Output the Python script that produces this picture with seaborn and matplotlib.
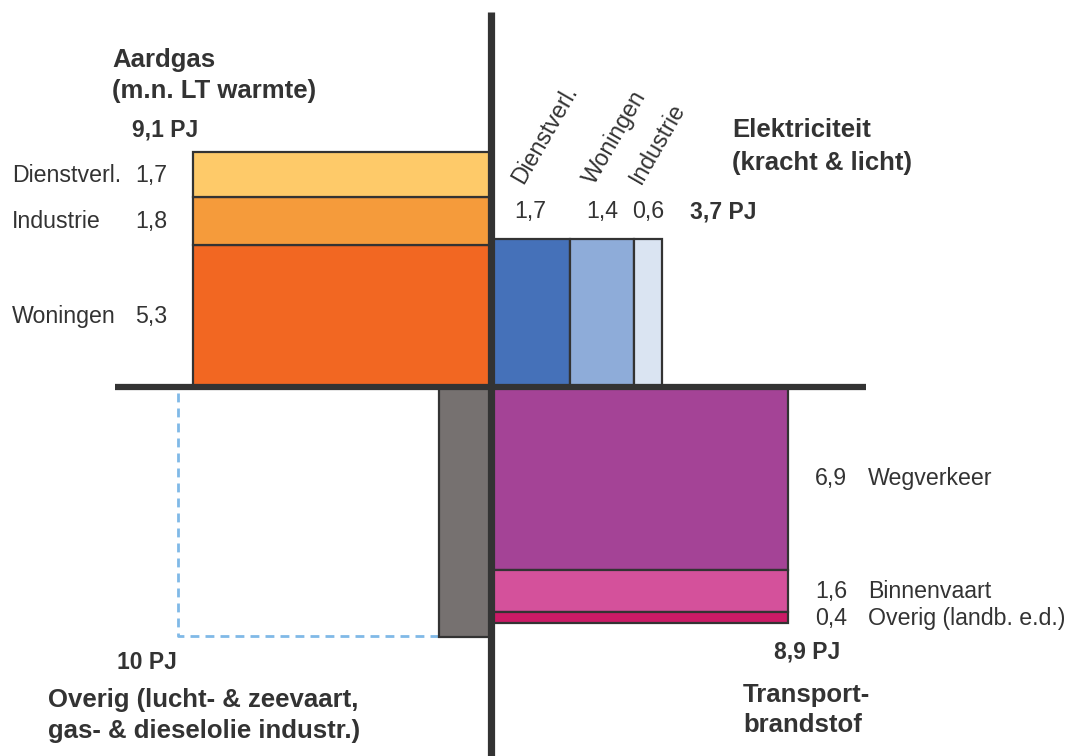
import numpy as np
import matplotlib
matplotlib.use("Agg")
import matplotlib.pyplot as plt
import seaborn as sns

# --- data (PJ) ---
gas_sectors = ["Woningen", "Industrie", "Dienstverl."]          # bottom -> top
gas_values = [5.3, 1.8, 1.7]
gas_total = 9.1

elec_sectors = ["Dienstverl.", "Woningen", "Industrie"]         # left -> right
elec_values = [1.7, 1.4, 0.6]
elec_total = 3.7

transport_sectors = ["Wegverkeer", "Binnenvaart", "Overig (landb. e.d.)"]  # top -> bottom
transport_values = [6.9, 1.6, 0.4]
transport_total = 8.9

other_total = 10.0

gas_title = ["Aardgas", "(m.n. LT warmte)"]
elec_title = ["Elektriciteit", "(kracht & licht)"]
transport_title = ["Transport-", "brandstof"]
other_title = ["Overig (lucht- & zeevaart,", "gas- & dieselolie industr.)"]

# --- style ---
gas_colors = ["#F26722", "#F59B3B", "#FECA69"]
elec_colors = ["#4571B9", "#8EACD9", "#DAE4F2"]
transport_colors = ["#A44396", "#D4519B", "#CB1A66"]
GRAY = "#767170"
DASH = "#80B9E7"
INK = "#333333"
EDGE_LW = 1.6
FS, FS_BOLD, FS_TOT = 16.7, 18.5, 16.5

# block geometry (screen px per PJ along the stacking direction)
GAS_W, GAS_SCALE = 298, 235 / gas_total
ELEC_H, ELEC_SCALE = 148, 171 / elec_total
TR_W, TR_SCALE = 297, 236 / transport_total
OV_W, OV_SCALE, OV_DASH_X = 52, 250 / other_total, -313


def pj(v):
    return f"{v:g}".replace(".", ",")


def shares(values, total):
    # segments split the block total in proportion to the sector values
    v = np.array(values, dtype=float)
    return v / v.sum() * total


sns.set_theme(style="white")
plt.rcParams["font.family"] = ["Liberation Sans", "DejaVu Sans"]
plt.rcParams["text.color"] = INK

fig = plt.figure(figsize=(10.75, 7.56), dpi=100)
ax = fig.add_axes([0, 0, 1, 1])
ax.set_xlim(-491, 584)
ax.set_ylim(-369, 387)
ax.axis("off")
bar_kw = dict(align="edge", edgecolor=INK, linewidth=EDGE_LW, zorder=2)

# Aardgas (top-left), stacked upward
h = shares(gas_values, gas_total) * GAS_SCALE
bottoms = np.concatenate([[0], np.cumsum(h)[:-1]])
ax.bar(-GAS_W, h, width=GAS_W, bottom=bottoms, color=gas_colors, **bar_kw)
for name, v, b, hh in zip(gas_sectors, gas_values, bottoms, h):
    yc = b + hh / 2 - 7
    ax.text(-479, yc, name, fontsize=FS, va="baseline")
    ax.text(-356, yc, pj(v), fontsize=FS, va="baseline")
gas_top = h.sum()
ax.text(-359, gas_top + 15, f"{pj(gas_total)} PJ", fontsize=FS_TOT, weight="bold", va="baseline")
ax.text(-379, 320, gas_title[0], fontsize=FS_BOLD, weight="bold", va="baseline")
ax.text(-379, 289, gas_title[1], fontsize=FS_BOLD, weight="bold", va="baseline")

# Elektriciteit (top-right), side by side
w = shares(elec_values, elec_total) * ELEC_SCALE
lefts = np.concatenate([[0], np.cumsum(w)[:-1]])
ax.bar(lefts, ELEC_H, width=w, color=elec_colors, **bar_kw)
for name, v, l, ww in zip(elec_sectors, elec_values, lefts, w):
    xc = l + ww / 2
    ax.text(xc, ELEC_H + 21, pj(v), fontsize=FS, ha="center", va="baseline")
    ax.text(xc - 7, ELEC_H + 54, name, fontsize=FS, rotation=60,
            rotation_mode="anchor", ha="left", va="baseline")
ax.text(w.sum() + 28, ELEC_H + 21, f"{pj(elec_total)} PJ", fontsize=FS_TOT,
        weight="bold", va="baseline")
ax.text(241, 250, elec_title[0], fontsize=FS_BOLD, weight="bold", va="baseline")
ax.text(241, 217, elec_title[1], fontsize=FS_BOLD, weight="bold", va="baseline")

# Transportbrandstof (bottom-right), stacked downward
h = shares(transport_values, transport_total) * TR_SCALE
tops = -np.concatenate([[0], np.cumsum(h)[:-1]])
ax.bar(0, -h, width=TR_W, bottom=tops, color=transport_colors, **bar_kw)
for name, v, t, hh in zip(transport_sectors, transport_values, tops, h):
    yc = t - hh / 2 - 7
    ax.text(324, yc, pj(v), fontsize=FS, va="baseline")
    ax.text(377, yc, name, fontsize=FS, va="baseline")
tr_bottom = -h.sum()
ax.text(283, tr_bottom - 35, f"{pj(transport_total)} PJ", fontsize=FS_TOT,
        weight="bold", va="baseline")
ax.text(252, -315, transport_title[0], fontsize=FS_BOLD, weight="bold", va="baseline")
ax.text(252, -345, transport_title[1], fontsize=FS_BOLD, weight="bold", va="baseline")

# Overig (bottom-left)
ov_h = other_total * OV_SCALE
ax.bar(-OV_W, -ov_h, width=OV_W, bottom=0, color=GRAY, **bar_kw)
ax.plot([OV_DASH_X, OV_DASH_X, -OV_W], [-6, -ov_h + 1, -ov_h + 1], color=DASH,
        lw=2, dashes=(3.2, 2.2), zorder=1)
ax.text(-374, -ov_h - 32, f"{pj(other_total)} PJ", fontsize=FS_TOT, weight="bold", va="baseline")
ax.text(-443, -320, other_title[0], fontsize=FS_BOLD, weight="bold", va="baseline")
ax.text(-443, -351, other_title[1], fontsize=FS_BOLD, weight="bold", va="baseline")

# cross axes
ax.plot([0, 0], [375, -369], color=INK, lw=5.2, solid_capstyle="butt", zorder=5)
ax.plot([-376, 375], [0, 0], color=INK, lw=4.5, solid_capstyle="butt", zorder=5)

fig.savefig("out.png", dpi=100)
